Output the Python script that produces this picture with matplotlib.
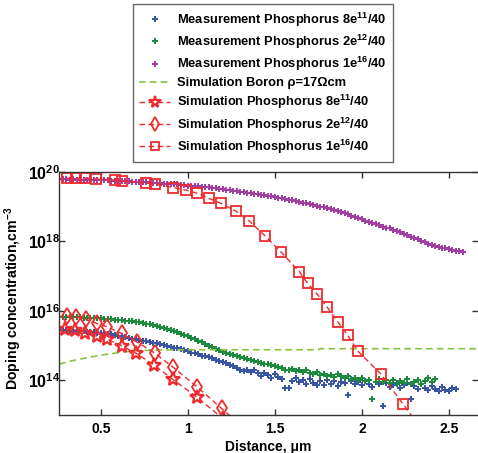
import numpy as np
import matplotlib
matplotlib.use("Agg")
import matplotlib.pyplot as plt

plt.rcParams["font.family"] = ["Liberation Sans", "DejaVu Sans"]
plt.rcParams["font.weight"] = "bold"
plt.rcParams["mathtext.fontset"] = "custom"
plt.rcParams["mathtext.rm"] = "Liberation Sans:bold"
plt.rcParams["mathtext.bf"] = "Liberation Sans:bold"
plt.rcParams["mathtext.it"] = "Liberation Sans:bold:italic"
plt.rcParams["mathtext.sf"] = "Liberation Sans:bold"

# ---- measured profiles (log10 of concentration, cm^-3), sampled every 0.02 um ----
meas_step = 0.02
meas_x0 = 0.26

meas_8e11_log = [
    15.45, 15.44, 15.44, 15.43, 15.43, 15.42, 15.41, 15.41, 15.40, 15.39,
    15.38, 15.37, 15.36, 15.35, 15.33, 15.32, 15.30, 15.29, 15.27, 15.25,
    15.22, 15.20, 15.18, 15.16, 15.14, 15.12, 15.10, 15.08, 15.06, 15.04,
    15.03, 15.00, 14.97, 14.94, 14.92, 14.89, 14.86, 14.83, 14.80, 14.78,
    14.75, 14.71, 14.69, 14.66, 14.63, 14.59, 14.56, 14.52, 14.49, 14.44,
    14.40, 14.35, 14.31, 14.28, 14.30, 14.25, 14.29, 14.20, 14.12, 14.22,
    14.15, 14.08, 14.17, 14.10, 14.04, 13.79, 13.78, 13.98, 14.06, 13.94,
    14.01, 13.88, 14.03, 13.92, 13.85, 13.97, 13.87, 14.02, 13.90, 13.98,
    13.83, 13.96, 13.92, 13.57, 13.99, 13.88, 13.94, 13.85, 13.98, 13.90,
    13.82, 13.95, 13.88, 13.26, 13.92, 13.80, 13.87, 13.93, 13.78, 13.85,
    13.91, 13.46, 13.84, 13.75, 13.88, 13.79, 13.72, 13.84, 13.76, 13.70,
    13.80, 13.73, 13.68, 13.79, 13.74,
]

meas_2e12_log = [
    15.83, 15.82, 15.83, 15.82, 15.81, 15.82, 15.81, 15.80, 15.80, 15.79,
    15.79, 15.78, 15.78, 15.77, 15.76, 15.76, 15.75, 15.74, 15.73, 15.72,
    15.71, 15.70, 15.68, 15.67, 15.65, 15.63, 15.61, 15.59, 15.56, 15.54,
    15.51, 15.48, 15.45, 15.42, 15.38, 15.34, 15.31, 15.27, 15.23, 15.18,
    15.13, 15.09, 15.05, 15.00, 14.95, 14.91, 14.86, 14.82, 14.78, 14.75,
    14.72, 14.70, 14.66, 14.63, 14.60, 14.57, 14.55, 14.53, 14.50, 14.48,
    14.46, 14.44, 14.41, 14.37, 14.34, 14.31, 14.29, 14.32, 14.27, 14.30,
    14.24, 14.29, 14.22, 14.19, 14.23, 14.15, 14.18, 14.12, 14.16, 14.10,
    14.17, 14.13, 14.08, 14.11, 14.04, 14.07, 14.02, 14.06, 13.97, 14.01,
    13.46, 13.94, 14.03, 13.96, 14.00, 13.92, 14.02, 13.89, 13.97, 13.93,
    14.04, 13.88, 13.95, 14.01, 13.90, 13.98, 14.06, 13.94, 14.05,
]

meas_1e16_log = [
    19.79, 19.79, 19.79, 19.78, 19.79, 19.78, 19.78, 19.78, 19.77, 19.78,
    19.77, 19.77, 19.77, 19.76, 19.76, 19.75, 19.75, 19.74, 19.74, 19.73,
    19.73, 19.72, 19.72, 19.71, 19.70, 19.70, 19.69, 19.68, 19.68, 19.67,
    19.66, 19.66, 19.65, 19.64, 19.64, 19.63, 19.62, 19.61, 19.61, 19.60,
    19.59, 19.58, 19.57, 19.56, 19.55, 19.53, 19.52, 19.51, 19.49, 19.48,
    19.46, 19.45, 19.43, 19.42, 19.40, 19.39, 19.37, 19.36, 19.34, 19.33,
    19.31, 19.30, 19.28, 19.26, 19.24, 19.22, 19.20, 19.18, 19.16, 19.14,
    19.12, 19.10, 19.08, 19.05, 19.03, 19.00, 18.98, 18.95, 18.93, 18.90,
    18.88, 18.85, 18.81, 18.78, 18.74, 18.71, 18.67, 18.64, 18.60, 18.56,
    18.52, 18.49, 18.46, 18.43, 18.40, 18.38, 18.34, 18.30, 18.26, 18.22,
    18.18, 18.14, 18.10, 18.06, 18.01, 17.97, 17.94, 17.91, 17.88, 17.85,
    17.82, 17.80, 17.78, 17.76, 17.73, 17.71, 17.69,
]

# ---- simulated profiles ----
sim_boron_x = [0.26, 0.35, 0.44, 0.52, 0.58, 0.64, 0.70, 0.80, 1.00, 1.75, 1.76, 2.70]
sim_boron_log = [14.47, 14.58, 14.67, 14.74, 14.78, 14.82, 14.85, 14.87, 14.88, 14.88, 14.91, 14.91]

sim_8e11_x = [0.293, 0.351, 0.408, 0.475, 0.534, 0.619, 0.701, 0.805, 0.912, 1.050, 1.200]
sim_8e11_log = [15.47, 15.45, 15.36, 15.27, 15.19, 14.99, 14.78, 14.44, 14.03, 13.52, 12.90]

sim_2e12_x = [0.303, 0.356, 0.414, 0.475, 0.536, 0.619, 0.705, 0.810, 0.916, 1.053, 1.193, 1.350]
sim_2e12_log = [15.85, 15.83, 15.76, 15.64, 15.54, 15.35, 15.11, 14.78, 14.37, 13.81, 13.19, 12.50]

sim_1e16_x = [0.303, 0.356, 0.408, 0.471, 0.580, 0.619, 0.757, 0.810, 0.916, 0.989,
              1.050, 1.121, 1.188, 1.274, 1.352, 1.443, 1.534, 1.640, 1.688, 1.743,
              1.801, 1.860, 1.918, 1.975, 2.109, 2.237, 2.370]
sim_1e16_log = [19.82, 19.82, 19.82, 19.80, 19.77, 19.74, 19.69, 19.65, 19.55, 19.48,
                19.39, 19.24, 19.10, 18.88, 18.59, 18.16, 17.70, 17.13, 16.79, 16.48,
                16.10, 15.69, 15.30, 14.85, 14.18, 13.31, 12.40]

x_ticks = [0.5, 1.0, 1.5, 2.0, 2.5]
x_tick_labels = ["0.5", "1", "1.5", "2", "2.5"]
y_ticks = [1e14, 1e16, 1e18, 1e20]
y_tick_labels = [r"$10^{14}$", r"$10^{16}$", r"$10^{18}$", r"$10^{20}$"]

labels = [
    r"Measurement Phosphorus 8e$^{11}$/40",
    r"Measurement Phosphorus 2e$^{12}$/40",
    r"Measurement Phosphorus 1e$^{16}$/40",
    "Simulation Boron \u03c1=17\u03a9cm",
    r"Simulation Phosphorus 8e$^{11}$/40",
    r"Simulation Phosphorus 2e$^{12}$/40",
    r"Simulation Phosphorus 1e$^{16}$/40",
]

c_blue = "#3a55a5"
c_green = "#1d8a3e"
c_magenta = "#a13fa2"
c_boron = "#86c440"
c_red = "#ee2b2e"

fig = plt.figure(figsize=(4.78, 4.53), dpi=100)
ax = fig.add_axes([59 / 478, 1 - 415 / 453, 1 - 59 / 478, (415 - 172) / 453])


def grid(values):
    return meas_x0 + meas_step * np.arange(len(values))


meas_kw = dict(linestyle="none", marker="P", markersize=4.3, markeredgewidth=0)
h1, = ax.plot(grid(meas_8e11_log), 10.0 ** np.array(meas_8e11_log), color=c_blue, **meas_kw)
h2, = ax.plot(grid(meas_2e12_log), 10.0 ** np.array(meas_2e12_log), color=c_green, **meas_kw)
h3, = ax.plot(grid(meas_1e16_log), 10.0 ** np.array(meas_1e16_log), color=c_magenta, **meas_kw)

dash = (0, (4, 2.5))
h4, = ax.plot(sim_boron_x, 10.0 ** np.array(sim_boron_log), color=c_boron,
              linestyle=dash, linewidth=1.2)
h5, = ax.plot(sim_8e11_x, 10.0 ** np.array(sim_8e11_log), color=c_red, linestyle=dash,
              linewidth=1.0, marker="*", markersize=10, markerfacecolor="none",
              markeredgewidth=1.6)
h6, = ax.plot(sim_2e12_x, 10.0 ** np.array(sim_2e12_log), color=c_red, linestyle=dash,
              linewidth=1.0, marker="d", markersize=8, markerfacecolor="none",
              markeredgewidth=1.3)
h7, = ax.plot(sim_1e16_x, 10.0 ** np.array(sim_1e16_log), color=c_red, linestyle=dash,
              linewidth=1.0, marker="s", markersize=7, markerfacecolor="none",
              markeredgewidth=1.3)

ax.set_yscale("log")
ax.set_xlim(0.259, 2.667)
ax.set_ylim(1e13, 1e20)
ax.set_xticks(x_ticks)
ax.set_xticklabels(x_tick_labels)
ax.set_yticks(y_ticks)
ax.set_yticklabels(y_tick_labels)
ax.yaxis.set_minor_locator(matplotlib.ticker.NullLocator())
ax.xaxis.set_minor_locator(matplotlib.ticker.NullLocator())
ax.tick_params(direction="in", length=4, width=1, top=True, right=True,
               labelsize=10, pad=5, color="#333333")
ax.tick_params(axis="y", labelsize=11.5, pad=-1)
for lab in ax.get_xticklabels() + ax.get_yticklabels():
    lab.set_fontweight("bold")
for sp in ax.spines.values():
    sp.set_linewidth(1.0)
    sp.set_color("#333333")
ax.spines["right"].set_visible(False)

ax.set_xlabel("Distance, \u03bcm", fontsize=10, fontweight="bold", labelpad=3)
ax.set_ylabel(r"Doping concentration,cm$^{-3}$", fontsize=10.2, fontweight="bold")
ax.yaxis.set_label_coords(-0.0835, 0.48)

leg = fig.legend([h1, h2, h3, h4, h5, h6, h7], labels,
                 loc="upper left", bbox_to_anchor=(133 / 478, 1 - 4 / 453),
                 bbox_transform=fig.transFigure, borderaxespad=0,
                 frameon=True, fancybox=False, edgecolor="#666666", framealpha=1,
                 prop={"weight": "bold", "size": 9.3}, numpoints=1, markerscale=0.85,
                 handlelength=2.4, handletextpad=0.5, labelspacing=0.31,
                 borderpad=0.5)
leg.get_frame().set_linewidth(1.0)

fig.savefig("out.png", dpi=100)
